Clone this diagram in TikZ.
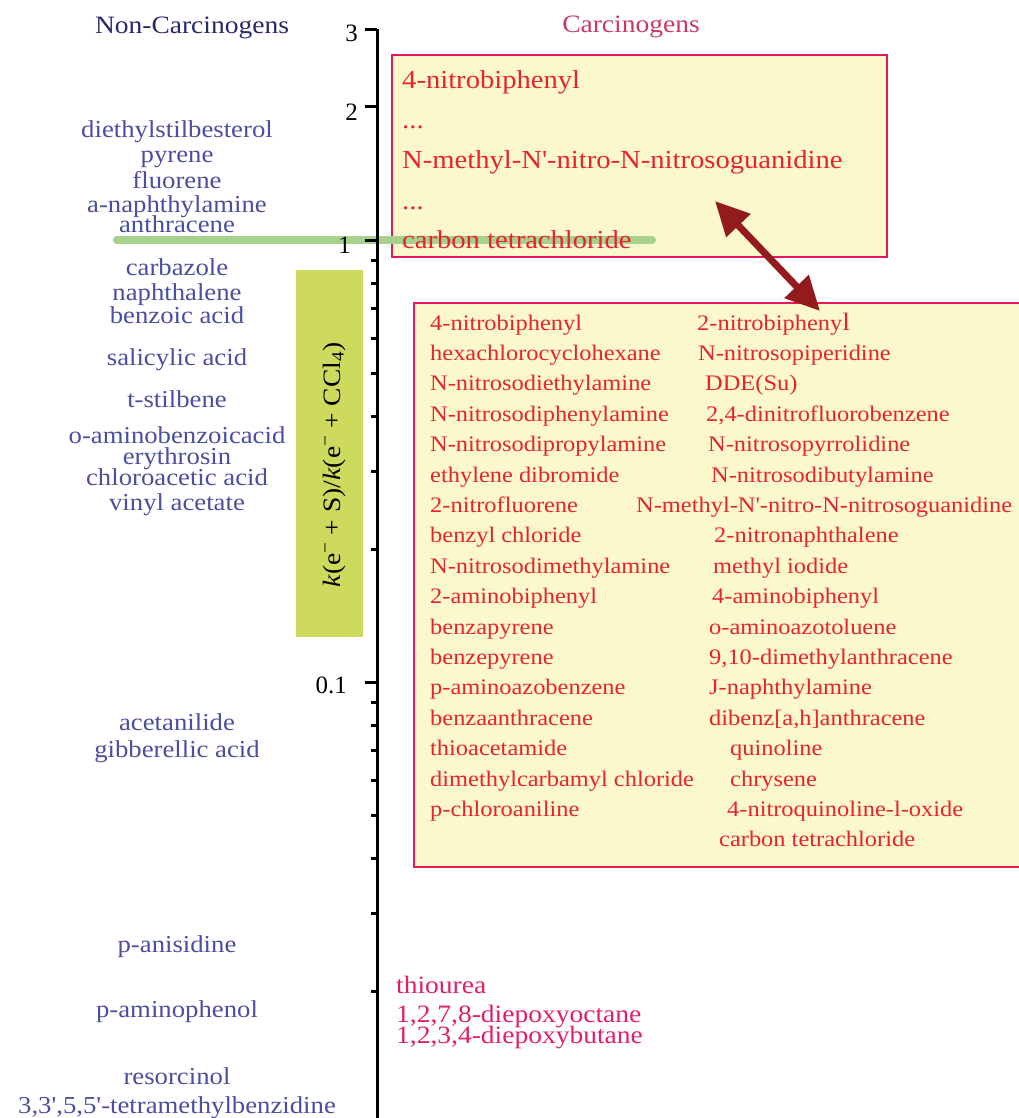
\documentclass[tikz,border=0pt]{standalone}
\usepackage{fontspec}
\setmainfont{Liberation Serif}
\newfontfamily\wf{Liberation Serif}[FakeStretch=1.1]
\usetikzlibrary{arrows.meta}
\definecolor{ncblue}{HTML}{4A4F9E}
\definecolor{ncdark}{HTML}{262A6A}
\definecolor{chead}{HTML}{C83A63}
\definecolor{cred}{HTML}{E8232E}
\definecolor{cpink}{HTML}{E0206A}
\definecolor{boxfill}{HTML}{FBF8CC}
\definecolor{boxline}{HTML}{E8185A}
\definecolor{glinec}{HTML}{A9D18E}
\definecolor{grect}{HTML}{CDDA5E}
\definecolor{arrowc}{HTML}{931B1E}
\tikzset{
  nc/.style={font=\wf\fontsize{24.3}{24.3}\selectfont, text=ncblue, anchor=base, inner sep=0pt},
  head/.style={font=\wf\fontsize{25}{25}\selectfont, anchor=base, inner sep=0pt},
  bigtxt/.style={font=\wf\fontsize{26}{26}\selectfont, text=cred, anchor=base west, inner sep=0pt},
  smtxt/.style={font=\wf\fontsize{22.2}{22.2}\selectfont, text=cred, anchor=base west, inner sep=0pt},
  lowtxt/.style={font=\wf\fontsize{25}{25}\selectfont, text=cpink, anchor=base west, inner sep=0pt},
  ticklab/.style={font=\fontsize{25}{25}\selectfont, anchor=base east, inner sep=0pt},
  cbox/.style={draw=boxline, fill=boxfill, line width=2pt, anchor=north west, inner sep=0pt},
  axisline/.style={line width=3pt, black},
  majtick/.style={line width=3pt, black},
}
\begin{document}
\begin{tikzpicture}[x=1pt,y=-1pt]
\clip (0,0) rectangle (1019,1118);
\fill[white] (0,0) rectangle (1019,1118);

% boxes
\node[cbox, minimum width=495pt, minimum height=202pt] (box1) at (391,54) {};
\node[cbox, minimum width=630pt, minimum height=564pt] (box2) at (413,302) {};

% green rectangle for axis label
\node[fill=grect, inner sep=0pt, minimum width=67pt, minimum height=367pt, anchor=north west] (grbox) at (296,270) {};

% green marker line
\coordinate (gl1) at (117,240);
\coordinate (gl2) at (652,240);
\draw[glinec, line width=8pt, line cap=round] (gl1) -- (gl2);

% axis
\coordinate (axtop) at (377,29);
\coordinate (axbot) at (377,1120);
\draw[axisline] (axtop) -- (axbot);
\foreach \yy in {30,107,240,682} {\draw[majtick] (365,\yy) -- (377,\yy);}
\foreach \yy in {260,283,308,338,373,416,471,549,702,725,750,780,815,858,913,991} {\draw[majtick] (371,\yy) -- (377,\yy);}
\node[ticklab] (t3) at (358,42) {3};
\node[ticklab] (t2) at (358,121) {2};
\node[ticklab] (t1) at (351,253) {1};
\node[ticklab] (t01) at (347,693) {0.1};

% axis label
\node[rotate=90, font=\wf\fontsize{25}{25}\selectfont, inner sep=0pt] (ylab) at (334,465)
  {\textit{k}(e\textsuperscript{−} + S)/\textit{k}(e\textsuperscript{−} + CCl\textsubscript{4})};

% headers
\node[head, text=ncdark] (hnc) at (192,34) {Non-Carcinogens};
\node[head, text=chead] (hc) at (631,33) {Carcinogens};

% non-carcinogens
\node[nc] (n1) at (177,138) {diethylstilbesterol};
\node[nc] (n2) at (177,163) {pyrene};
\node[nc] (n3) at (177,189) {fluorene};
\node[nc] (n4) at (177,212) {a-naphthylamine};
\node[nc] (n5) at (177,232) {anthracene};
\node[nc] (n6) at (177,275) {carbazole};
\node[nc] (n7) at (177,300) {naphthalene};
\node[nc] (n8) at (177,323) {benzoic acid};
\node[nc] (n9) at (177,365) {salicylic acid};
\node[nc] (n10) at (177,407) {t-stilbene};
\node[nc] (n11) at (177,443) {o-aminobenzoicacid};
\node[nc] (n12) at (177,464) {erythrosin};
\node[nc] (n13) at (177,485) {chloroacetic acid};
\node[nc] (n14) at (177,510) {vinyl acetate};
\node[nc] (n15) at (177,730) {acetanilide};
\node[nc] (n16) at (177,757) {gibberellic acid};
\node[nc] (n17) at (177,952) {p-anisidine};
\node[nc] (n18) at (177,1017) {p-aminophenol};
\node[nc] (n19) at (177,1084) {resorcinol};
\node[nc] (n20) at (177,1113) {3,3',5,5'-tetramethylbenzidine};

% box 1 text
\node[bigtxt] (b1a) at (402,89) {4-nitrobiphenyl};
\node[bigtxt] (b1b) at (402,129) {...};
\node[bigtxt] (b1c) at (402,168) {N-methyl-N'-nitro-N-nitrosoguanidine};
\node[bigtxt] (b1d) at (402,209) {...};
\node[bigtxt] (b1e) at (402,248) {carbon tetrachloride};

% box 2 text, left column
\node[smtxt] (l1) at (430,330.0) {4-nitrobiphenyl};
\node[smtxt] (l2) at (430,360.4) {hexachlorocyclohexane};
\node[smtxt] (l3) at (430,390.8) {N-nitrosodiethylamine};
\node[smtxt] (l4) at (430,421.2) {N-nitrosodiphenylamine};
\node[smtxt] (l5) at (430,451.6) {N-nitrosodipropylamine};
\node[smtxt] (l6) at (430,482.0) {ethylene dibromide};
\node[smtxt] (l7) at (430,512.4) {2-nitrofluorene};
\node[smtxt] (l8) at (430,542.8) {benzyl chloride};
\node[smtxt] (l9) at (430,573.2) {N-nitrosodimethylamine};
\node[smtxt] (l10) at (430,603.6) {2-aminobiphenyl};
\node[smtxt] (l11) at (430,634.0) {benzapyrene};
\node[smtxt] (l12) at (430,664.4) {benzepyrene};
\node[smtxt] (l13) at (430,694.8) {p-aminoazobenzene};
\node[smtxt] (l14) at (430,725.2) {benzaanthracene};
\node[smtxt] (l15) at (430,755.6) {thioacetamide};
\node[smtxt] (l16) at (430,786.0) {dimethylcarbamyl chloride};
\node[smtxt] (l17) at (430,816.4) {p-chloroaniline};

% box 2 text, right column
\node[smtxt] (r1) at (697,330.0) {2-nitrobipheny{\fontsize{25}{25}\selectfont l}};
\node[smtxt] (r2) at (698,360.4) {N-nitrosopiperidine};
\node[smtxt] (r3) at (705,390.8) {DDE(Su)};
\node[smtxt] (r4) at (706,421.2) {2,4-dinitrofluorobenzene};
\node[smtxt] (r5) at (708,451.6) {N-nitrosopyrrolidine};
\node[smtxt] (r6) at (711,482.0) {N-nitrosodibutylamine};
\node[smtxt] (r7) at (636,512.4) {N-methyl-N'-nitro-N-nitrosoguanidine};
\node[smtxt] (r8) at (714,542.8) {2-nitronaphthalene};
\node[smtxt] (r9) at (713,573.2) {methyl iodide};
\node[smtxt] (r10) at (712,603.6) {4-aminobiphenyl};
\node[smtxt] (r11) at (709,634.0) {o-aminoazotoluene};
\node[smtxt] (r12) at (709,664.4) {9,10-dimethylanthracene};
\node[smtxt] (r13) at (709,694.8) {J-naphthylamine};
\node[smtxt] (r14) at (709,725.2) {dibenz[a,h]anthracene};
\node[smtxt] (r15) at (730,755.6) {quinoline};
\node[smtxt] (r16) at (730,786.0) {chrysene};
\node[smtxt] (r17) at (727,816.4) {4-nitroquinoline-l-oxide};
\node[smtxt] (r18) at (719,846.8) {carbon tetrachloride};

% bottom carcinogens
\node[lowtxt] (c1) at (396,993) {thiourea};
\node[lowtxt] (c2) at (396,1022) {1,2,7,8-diepoxyoctane};
\node[lowtxt] (c3) at (396,1043) {1,2,3,4-diepoxybutane};

% double arrow
\coordinate (a1) at (715,201);
\coordinate (a2) at (820,311);
\draw[arrowc, line width=7pt, {Triangle[length=34pt,width=32pt]}-{Triangle[length=34pt,width=32pt]}] (a1) -- (a2);
\end{tikzpicture}
\end{document}
